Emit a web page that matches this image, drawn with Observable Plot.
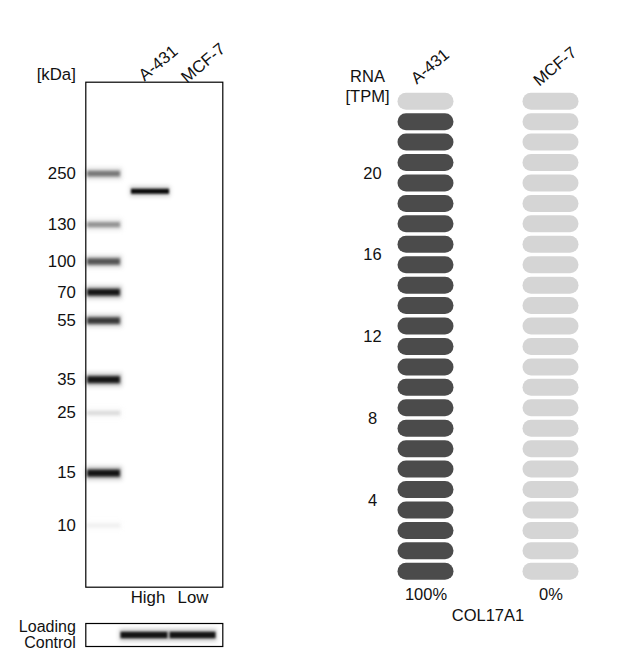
<!DOCTYPE html>
<html><head><meta charset="utf-8">
<script src="https://cdn.jsdelivr.net/npm/d3@7"></script>
<script src="https://cdn.jsdelivr.net/npm/@observablehq/plot@0.6"></script>
<style>
html,body{margin:0;padding:0;background:#fff;}
#chart{position:relative;width:640px;height:650px;overflow:hidden;background:#fff;}
</style></head><body><div id="chart"></div>
<script>
// ---------- data ----------
const lanes = ["Ladder", "A-431", "MCF-7"];
const ladderKDa = [250, 130, 100, 70, 55, 35, 25, 15, 10];
const ladderRf = [0.181, 0.282, 0.355, 0.416, 0.472, 0.589, 0.655, 0.774, 0.878];
const ladderIntensity = [0.62, 0.52, 0.74, 0.93, 0.82, 0.93, 0.24, 0.94, 0.12];
const sampleLanes = ["A-431"];
const sampleRf = [0.216];
const sampleIntensity = [0.97];
const proteinLanes = ["A-431", "MCF-7"];
const proteinLevel = ["High", "Low"];
const loadingIntensity = [0.93, 0.93];
const rnaLines = ["A-431", "MCF-7"];
const rnaTPM = [23.4, 0.0];
const tpmMax = 24;
const tpmTicks = [4, 8, 12, 16, 20];
const gene = "COL17A1";

const FONT = '"Liberation Sans", Arial, Helvetica, sans-serif';
const leftStyle = {fontFamily: FONT, fontSize: "16.8px", color: "#111", background: "transparent", overflow: "visible"};
const rightStyle = {fontFamily: FONT, fontSize: "16.5px", color: "#111", background: "transparent", overflow: "visible"};
const chart = document.getElementById("chart");
function place(el, left, top) {
  el.style.position = "absolute";
  el.style.left = left + "px";
  el.style.top = top + "px";
  chart.appendChild(el);
}
const grey = d => d3.interpolateGreys(d.intensity);

// ---------- western blot ----------
const ladder = ladderKDa.map((k, i) => ({kDa: k, rf: ladderRf[i], intensity: ladderIntensity[i]}));
const samples = sampleLanes.map((l, i) => ({lane: l, rf: sampleRf[i], intensity: sampleIntensity[i]}));
const kdaByRf = new Map(ladder.map(d => [d.rf, d.kDa]));
const levels = proteinLanes.map((l, i) => ({lane: l, level: proteinLevel[i], intensity: loadingIntensity[i]}));

const blot = Plot.plot({
  width: 240, height: 615,
  marginLeft: 85.3, marginRight: 17.7, marginTop: 81.7, marginBottom: 28.3,
  style: leftStyle,
  x: {type: "band", domain: lanes, padding: 0, axis: null},
  y: {domain: [0, 1], reverse: true},
  marks: [
    // soft halo around each band
    Plot.tickY(ladder, {x: d => "Ladder", y: "rf", stroke: grey, strokeOpacity: 0.22,
      strokeWidth: d => 8 + 6 * d.intensity, insetLeft: 0, insetRight: 9, imageFilter: "blur(2px)"}),
    Plot.tickY(ladder, {x: d => "Ladder", y: "rf", stroke: grey,
      strokeWidth: d => 3 + 4.5 * d.intensity, insetLeft: 1, insetRight: 11, imageFilter: "blur(1.5px)"}),
    Plot.tickY(samples, {x: "lane", y: "rf", stroke: grey, strokeOpacity: 0.22,
      strokeWidth: 10, insetLeft: -1, insetRight: 6, imageFilter: "blur(2px)"}),
    Plot.tickY(samples, {x: "lane", y: "rf", stroke: grey,
      strokeWidth: 5, insetLeft: 0, insetRight: 7, imageFilter: "blur(1.2px)"}),
    Plot.frame({stroke: "#000", strokeWidth: 1.2}),
    Plot.axisY({ticks: ladderRf, tickFormat: d => kdaByRf.get(d), tickSize: 0, tickPadding: 10, label: null}),
    Plot.text(["[kDa]"], {text: d => d, frameAnchor: "top-left", dx: -10, dy: -14, textAnchor: "end"}),
    Plot.text(proteinLanes, {x: d => d, text: d => d, frameAnchor: "top", dy: -24, rotate: -40, textAnchor: "middle"}),
    Plot.text(levels, {x: "lane", text: "level", frameAnchor: "bottom", dy: 15.5, dx: -6})
  ]
});
place(blot, 0, 0);

const loading = Plot.plot({
  width: 240, height: 45,
  marginLeft: 85.3, marginRight: 17.7, marginTop: 18, marginBottom: 4,
  style: {...leftStyle, fontSize: "16px"},
  x: {type: "band", domain: lanes, padding: 0, axis: null},
  y: {domain: [-1, 1], axis: null},
  marks: [
    Plot.tickY(levels.filter(d => d.lane === "A-431"), {x: "lane", y: d => 0, stroke: grey, strokeOpacity: 0.25,
      strokeWidth: 12, insetLeft: -11.5, insetRight: 7.5, imageFilter: "blur(2px)"}),
    Plot.tickY(levels.filter(d => d.lane === "MCF-7"), {x: "lane", y: d => 0, stroke: grey, strokeOpacity: 0.25,
      strokeWidth: 12, insetLeft: -7.5, insetRight: 4.5, imageFilter: "blur(2px)"}),
    Plot.tickY(levels.filter(d => d.lane === "A-431"), {x: "lane", y: d => 0, stroke: grey,
      strokeWidth: 6.5, insetLeft: -10.5, insetRight: 8.5, imageFilter: "blur(1.2px)"}),
    Plot.tickY(levels.filter(d => d.lane === "MCF-7"), {x: "lane", y: d => 0, stroke: grey,
      strokeWidth: 6.5, insetLeft: -6.5, insetRight: 5.5, imageFilter: "blur(1.2px)"}),
    Plot.frame({stroke: "#000", strokeWidth: 1.2}),
    Plot.text(["Loading\nControl"], {text: d => d, frameAnchor: "left", dx: -10, textAnchor: "end", lineHeight: 1.0})
  ]
});
place(loading, 0, 605);

// ---------- RNA ----------
const rna = rnaLines.map((l, i) => ({line: l, tpm: rnaTPM[i]}));
const maxTPM = d3.max(rnaTPM);
const pills = rna.flatMap(d => d3.range(tpmMax).map(k => ({line: d.line, k, on: k + 1 <= d.tpm})));

const rnaPlot = Plot.plot({
  width: 310, height: 650,
  marginLeft: 32.5, marginRight: 27.5, marginTop: 91, marginBottom: 68.5,
  style: rightStyle,
  x: {type: "band", domain: rnaLines, padding: 0, axis: null},
  y: {domain: [0, tpmMax], axis: null},
  marks: [
    Plot.barY(pills, {x: "line", y1: "k", y2: d => d.k + 1, fill: d => d.on ? "#4b4b4b" : "#d5d5d5",
      insetLeft: 34.5, insetRight: 34.5, insetTop: 1.7, insetBottom: 1.7, rx: 8.5}),
    Plot.text(tpmTicks, {y: d => d, text: d => String(d), frameAnchor: "left", dx: 9.5, textAnchor: "middle"}),
    Plot.text(["RNA\n[TPM]"], {text: d => d, frameAnchor: "top-left", dx: 4.5, dy: -24, textAnchor: "middle", lineHeight: 1.22}),
    Plot.text(rnaLines, {x: d => d, text: d => d, frameAnchor: "top", dy: -30, rotate: -40, textAnchor: "middle"}),
    Plot.text(rna, {x: "line", text: d => Math.round(100 * d.tpm / maxTPM) + "%", frameAnchor: "bottom", dy: 17.5}),
    Plot.text([gene], {text: d => d, frameAnchor: "bottom", dy: 38.5})
  ]
});
place(rnaPlot, 330, 0);
</script></body></html>
